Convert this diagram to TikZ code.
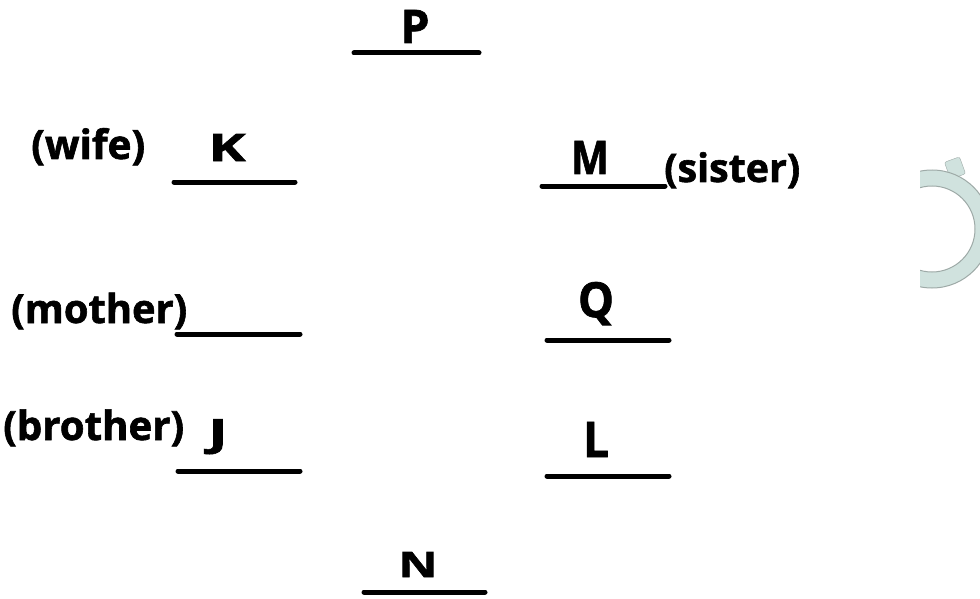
\documentclass[tikz,border=0pt]{standalone}
\usepackage{fontspec}
\setmainfont{Open Sans}[BoldFeatures={FakeBold=1.5}]
\usepackage{graphicx}
\definecolor{ringfill}{HTML}{D0E2DE}
\definecolor{ringedge}{HTML}{9EAAA7}
\tikzset{
  seat/.style={line width=5pt, line cap=round},
  who/.style={inner sep=0pt, anchor=base, font=\bfseries},
  rel/.style={inner sep=0pt, anchor=base west, font=\bfseries},
}
\begin{document}
\begin{tikzpicture}[x=1pt, y=-1pt]
  \useasboundingbox (0,0) rectangle (980,599);

  \newcommand\lbox[3]{\resizebox{#1pt}{#2pt}{#3}}

  % seats
  \draw[seat] (354,53) -- (479,53);   %% P
  \draw[seat] (174,182) -- (295,182); %% K
  \draw[seat] (542,186) -- (665,186); %% M
  \draw[seat] (177,334) -- (300,334); %% mother
  \draw[seat] (547,340) -- (669,340); %% Q
  \draw[seat] (178,471) -- (300,471); %% J
  \draw[seat] (547,476) -- (669,476); %% L
  \draw[seat] (364,592) -- (485,592); %% N

  % people
  \node[who] (P) at (415,43) {\lbox{29}{33}{P}};
  \node[who] (K) at (227,161) {\lbox{37}{27}{K}};
  \node[who] (M) at (590,174) {\lbox{38}{33}{M}};
  \node[who] (Q) at (596,317) {\lbox{36}{35}{Q}};
  \node[who, anchor=north] (J) at (218,419) {\resizebox*{19pt}{35pt}{J}};
  \node[who] (L) at (596,457) {\lbox{26}{35}{L}};
  \node[who] (N) at (418,577) {\lbox{39}{25}{N}};

  % relations
  \node[rel] (wife) at (31,159) {\resizebox{114pt}{!}{(wife)}};
  \node[rel] (sister) at (664,182) {\resizebox{136pt}{!}{(sister)}};
  \node[rel] (mother) at (11,323) {\resizebox{176pt}{!}{(mother)}};
  \node[rel] (brother) at (3,440) {\resizebox{181pt}{!}{(brother)}};

  % ring at the edge
  \begin{scope}
    \clip (920,0) rectangle (980,599);
    \draw[ringedge, fill=ringfill, rounded corners=2pt, rotate around={20:(955,168)}]
      (947,159) rectangle (963,177);
    \draw[ringedge, line width=1pt, fill=ringfill, even odd rule]
      (932,229) circle (59pt) (932,229) circle (43pt);
  \end{scope}
\end{tikzpicture}
\end{document}
